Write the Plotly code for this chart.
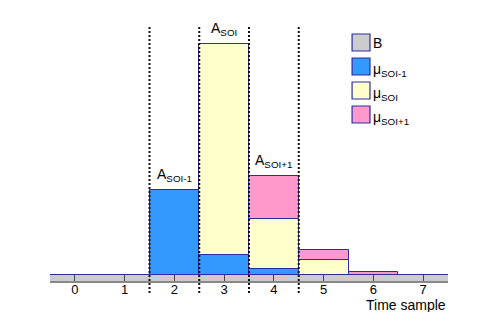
import numpy as np
import plotly.graph_objects as go

# ---- data ----
samples = [0, 1, 2, 3, 4, 5, 6, 7]
B_level = 6.5
mu_prev = [0, 0, 84.3, 20.0, 6.0, 0, 0, 0]      # mu_SOI-1
mu_soi = [0, 0, 0, 211.0, 50.0, 15.0, 0, 0]     # mu_SOI
mu_next = [0, 0, 0, 0, 42.3, 10.0, 3.0, 0]      # mu_SOI+1
boundaries = [1.5, 2.5, 3.5, 4.5]
amp_labels = {2: "A<sub>SOI-1</sub>", 3: "A<sub>SOI</sub>", 4: "A<sub>SOI+1</sub>"}
series_names = ["B", "\u03bc<sub>SOI-1</sub>", "\u03bc<sub>SOI</sub>", "\u03bc<sub>SOI+1</sub>"]
colors = ["#CCCCCC", "#3399FF", "#FFFFCC", "#FF99CC"]
edge = "#2D2DA0"
font_family = "Liberation Sans, Arial, Helvetica, sans-serif"

x = np.array(samples, dtype=float)
p = np.array(mu_prev)
s = np.array(mu_soi)
n = np.array(mu_next)

fig = go.Figure()

# background level B spanning every sample (filled band with top edge only)
x_lo, x_hi = x.min() - 0.5, x.max() + 0.5
fig.add_trace(go.Scatter(
    x=[x_lo, x_hi], y=[B_level, B_level], mode="lines", fill="tozeroy",
    fillcolor=colors[0], line=dict(color=edge, width=1.2),
    name=series_names[0], showlegend=False, hoverinfo="skip",
))

bases = [np.full_like(x, B_level), B_level + p, B_level + p + s]
vals = [p, s, n]
for i, (v, b) in enumerate(zip(vals, bases)):
    mask = v > 0
    fig.add_trace(go.Bar(
        x=x[mask], y=v[mask], base=b[mask], width=1,
        name=series_names[i + 1], showlegend=False,
        marker=dict(color=colors[i + 1], line=dict(color=edge, width=1)),
    ))

totals = B_level + p + s + n

for xb in boundaries:
    fig.add_shape(type="line", xref="x", yref="paper", x0=xb, x1=xb, y0=-0.047, y1=1,
                  line=dict(color="#111", width=2, dash="2px,2px"), layer="above")

for k, txt in amp_labels.items():
    fig.add_annotation(x=k, y=totals[k], text=txt, showarrow=False, yanchor="bottom",
                       yshift=4, font=dict(size=14, color="black", family=font_family))

fig.add_annotation(xref="paper", yref="paper", x=1.0, y=-0.092, xanchor="right", yanchor="middle",
                   text="Time sample", showarrow=False,
                   font=dict(size=14, color="black", family=font_family))

# legend drawn as swatches + labels (plot-area paper coordinates)
plot_h = 256.0
leg_x0, leg_x1 = 0.759, 0.804
leg_top0, leg_step, sw = 247.0, 24.0, 17.0   # pixels above the x axis
for i, (name, col) in enumerate(zip(series_names, colors)):
    top = (leg_top0 - i * leg_step) / plot_h
    bot = (leg_top0 - i * leg_step - sw) / plot_h
    fig.add_shape(type="rect", xref="paper", yref="paper", x0=leg_x0, x1=leg_x1, y0=bot, y1=top,
                  fillcolor=col, line=dict(color=edge, width=1.2), layer="above")
    fig.add_annotation(xref="paper", yref="paper", x=leg_x1 + 0.002, y=(top + bot) / 2,
                       xanchor="left", yanchor="middle", text=name, showarrow=False,
                       yshift=-3 if i > 0 else 0,
                       font=dict(size=14, color="black", family=font_family))

fig.update_layout(
    width=490, height=304,
    margin=dict(l=42, r=50, t=17, b=31),
    plot_bgcolor="white", paper_bgcolor="white",
    barmode="overlay", bargap=0, showlegend=False,
    font=dict(family=font_family, size=14, color="black"),
    xaxis=dict(range=[x_lo, x_hi], tickvals=samples, ticks="inside", ticklen=6,
               tickcolor="#444", showline=True, linecolor="#888", linewidth=2,
               showgrid=False, zeroline=False, tickfont=dict(size=13),
               ticklabelstandoff=-5),
    yaxis=dict(visible=False, range=[0, 256]),
)

fig.write_html("out.html")
